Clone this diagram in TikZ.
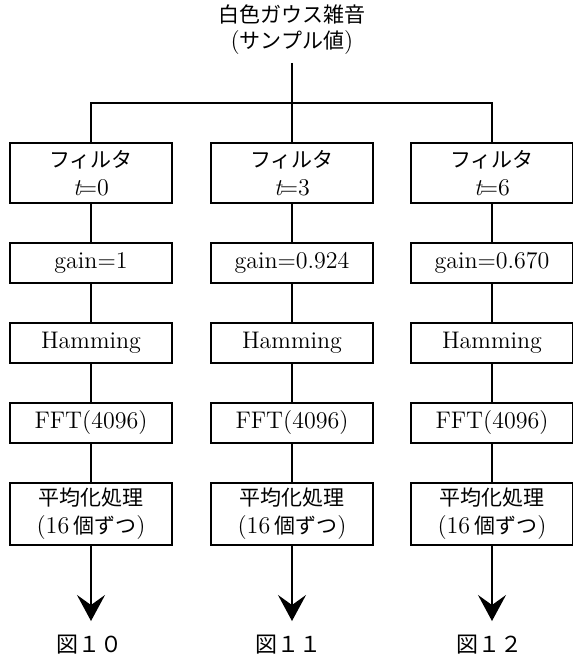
\documentclass[tikz,border=0pt]{standalone}
\usepackage{fontspec}
\newfontfamily\jp{Noto Sans CJK JP}
\usetikzlibrary{arrows.meta}
\tikzset{
  box/.style={draw, line width=1pt, minimum width=81pt, inner sep=0pt, align=center, font=\fontsize{12}{14}\selectfont},
  boxA/.style={box, minimum height=30pt},
  boxB/.style={box, minimum height=20pt},
  boxC/.style={box, minimum height=31pt},
  conn/.style={line width=0.8pt},
  arr/.style={line width=0.8pt, -{Stealth[length=13pt, width=14pt, inset=5pt]}},
  lab/.style={font=\jp\fontsize{11}{13}\selectfont},
  jpt/.style={font=\fontsize{12}{13}\selectfont, align=center, inner sep=0pt, outer ysep=4pt}
}
\newcommand{\jt}[1]{{\jp\fontsize{10.5}{12}\selectfont #1}}
\begin{document}
\begin{tikzpicture}[x=0.5pt,y=-0.5pt]
\useasboundingbox (0,0) rectangle (573,655);
% title
\node[jpt] (title) at (292,30) {\jt{白色ガウス雑音}\\(\jt{サンプル値})};
\coordinate (s) at (292,103);
% column 1
\node[boxA] (f1) at (91,173) {\jt{フィルタ}\\\textit{t}\kern-1.5pt=0};
\node[boxB] (g1) at (91,263) {gain=1};
\node[boxB] (h1) at (91,343) {Hamming};
\node[boxB] (t1) at (91,423) {FFT(4096)};
\node[boxC] (a1) at (91,514) {\jt{平均化処理}\\(16\,\jt{個ずつ})};
\coordinate (e1) at (91,621);
\node[lab] (l1) at (89,645) {図１０};
% column 2
\node[boxA] (f2) at (292,173) {\jt{フィルタ}\\\textit{t}\kern-1.5pt=3};
\node[boxB] (g2) at (292,263) {gain=0.924};
\node[boxB] (h2) at (292,343) {Hamming};
\node[boxB] (t2) at (292,423) {FFT(4096)};
\node[boxC] (a2) at (292,514) {\jt{平均化処理}\\(16\,\jt{個ずつ})};
\coordinate (e2) at (292,621);
\node[lab] (l2) at (289,645) {図１１};
% column 3
\node[boxA] (f3) at (492,173) {\jt{フィルタ}\\\textit{t}\kern-1.5pt=6};
\node[boxB] (g3) at (492,263) {gain=0.670};
\node[boxB] (h3) at (492,343) {Hamming};
\node[boxB] (t3) at (492,423) {FFT(4096)};
\node[boxC] (a3) at (492,514) {\jt{平均化処理}\\(16\,\jt{個ずつ})};
\coordinate (e3) at (492,621);
\node[lab] (l3) at (489,645) {図１２};
% connectors
\draw[conn] (title.south) -- (s);
\draw[conn] (f1.north) |- (s) -| (f3.north);
\draw[conn] (s) -- (f2.north);
\foreach \c in {1,2,3}{
  \draw[conn] (f\c) -- (g\c);
  \draw[conn] (g\c) -- (h\c);
  \draw[conn] (h\c) -- (t\c);
  \draw[conn] (t\c) -- (a\c);
  \draw[arr] (a\c) -- (e\c);
}
\end{tikzpicture}
\end{document}
